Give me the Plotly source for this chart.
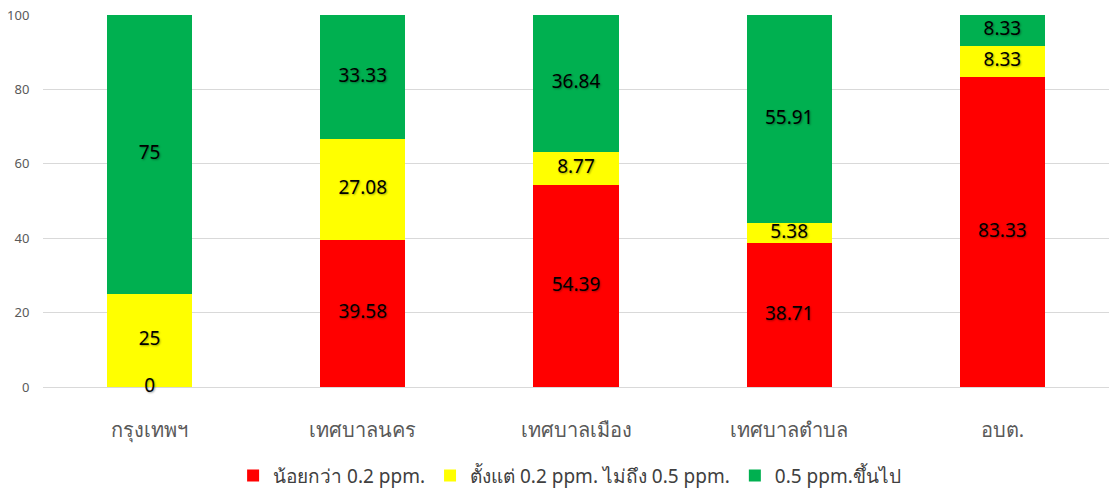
import plotly.graph_objects as go

categories = ["กรุงเทพฯ", "เทศบาลนคร", "เทศบาลเมือง", "เทศบาลตำบล", "อบต."]
series_names = ["น้อยกว่า 0.2 ppm.", "ตั้งแต่ 0.2 ppm. ไม่ถึง 0.5 ppm.", "0.5 ppm.ขึ้นไป"]
below_02 = [0, 39.58, 54.39, 38.71, 83.33]
from_02_to_05 = [25, 27.08, 8.77, 5.38, 8.33]
above_05 = [75, 33.33, 36.84, 55.91, 8.33]
series_colors = ["#FF0000", "#FFFF00", "#00B050"]
y_ticks = [0, 20, 40, 60, 80, 100]

FONT = "Tahoma, 'Noto Sans', 'DejaVu Sans', sans-serif"

fig = go.Figure()
series = [below_02, from_02_to_05, above_05]
for name, vals, color in zip(series_names, series, series_colors):
    fig.add_trace(go.Bar(
        x=categories, y=vals, name=name, marker_color=color,
        marker_line_width=0, width=0.4,
    ))

# value labels centred on each stacked segment
base = [0.0] * len(categories)
for vals in series:
    mids = [b + v / 2 for b, v in zip(base, vals)]
    fig.add_trace(go.Scatter(
        x=categories, y=mids, mode="text",
        text=[f"{v:g}" for v in vals],
        textfont=dict(family=FONT, size=19, color="#000000",
                      shadow="1px 1px 2px rgba(0,0,0,0.35)"),
        showlegend=False, hoverinfo="skip", cliponaxis=False,
    ))
    base = [b + v for b, v in zip(base, vals)]

fig.update_layout(
    barmode="stack",
    width=1109, height=494,
    margin=dict(l=43, r=0, t=15, b=107, autoexpand=False),
    plot_bgcolor="white", paper_bgcolor="white",
    font=dict(family=FONT),
    legend=dict(
        orientation="h", x=0.494, xanchor="center",
        yref="container", y=0.037, yanchor="middle",
        font=dict(size=19, color="#404040"), traceorder="normal",
        itemwidth=30,
    ),
    showlegend=True,
)
fig.update_xaxes(
    type="category", range=[-0.5, 4.5],
    showgrid=False, showline=False, zeroline=False,
    ticks="outside", ticklen=25, tickcolor="rgba(0,0,0,0)",
    tickfont=dict(size=20, color="#595959"),
)
fig.update_yaxes(
    range=[0, 100], tickvals=y_ticks,
    showgrid=True, gridcolor="#D9D9D9", gridwidth=1,
    zeroline=True, zerolinecolor="#D9D9D9", zerolinewidth=1,
    tickfont=dict(size=13, color="#595959"),
    ticks="outside", ticklen=10, tickcolor="rgba(0,0,0,0)",
)

fig.write_html("out.html")
